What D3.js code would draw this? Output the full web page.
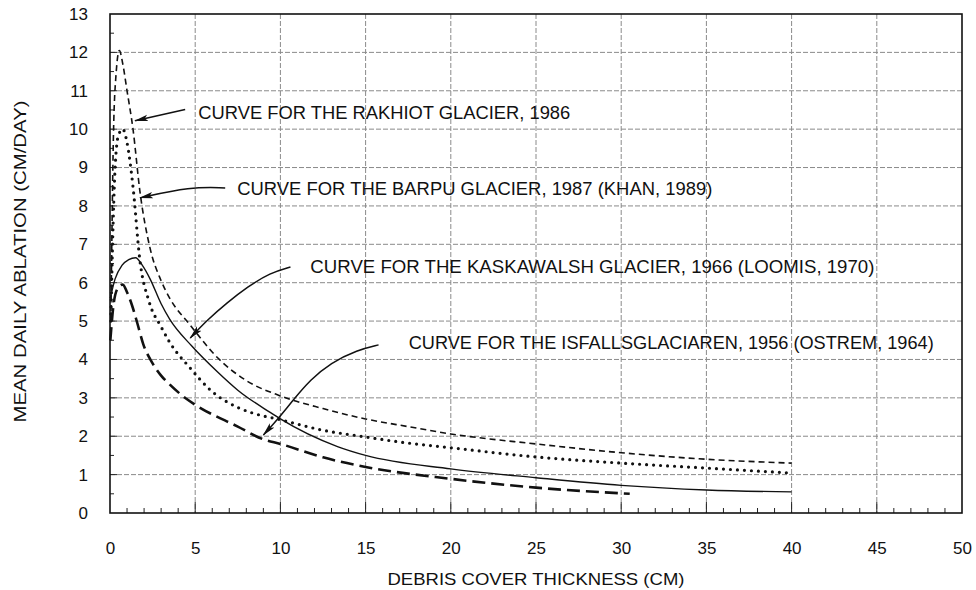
<!DOCTYPE html>
<html><head><meta charset="utf-8">
<script src="https://cdn.jsdelivr.net/npm/d3@7"></script>
<style>
html,body{margin:0;padding:0;background:#fff;}
svg text{font-family:"Liberation Sans",Arial,Helvetica,sans-serif;fill:#111;}
</style></head>
<body><svg id="chart" width="976" height="590"></svg>
<script>
// ---- data (debris thickness cm, ablation cm/day) ----
const rakhiotX = [0.05,0.12,0.2,0.35,0.55,0.75,1.0,1.35,1.75,2.35,3.0,3.5,4.7,6.3,8.0,10,12.5,15,17.5,20,25,30,35,40];
const rakhiotY = [5.0,7.5,9.8,11.4,12.05,11.7,11.0,10.0,8.4,6.9,6.05,5.6,4.9,4.05,3.45,3.05,2.72,2.45,2.25,2.06,1.8,1.57,1.4,1.3];

const barpuX = [0.05,0.15,0.3,0.5,0.75,1.0,1.35,1.75,2.3,3.0,3.5,4.7,5.9,7.5,8.4,10,12.35,15,17,20,25,30,35,40];
const barpuY = [5.0,7.0,9.0,9.85,10.0,9.65,8.5,6.6,5.5,4.85,4.45,3.78,3.2,2.75,2.6,2.43,2.17,1.98,1.85,1.7,1.46,1.3,1.17,1.04];

const kaskaX = [0.02,0.3,0.7,1.1,1.5,1.9,2.35,3.0,3.5,4.8,6.3,7.5,9.4,10,13.35,15,20,25,30,35,40];
const kaskaY = [5.6,6.1,6.45,6.6,6.65,6.45,6.1,5.45,5.05,4.35,3.68,3.2,2.62,2.45,1.73,1.5,1.15,0.92,0.72,0.6,0.55];

const isfallX = [0.02,0.2,0.45,0.75,1.0,1.3,1.6,1.95,2.5,3.0,3.5,4.5,5.0,7.5,9.0,10,12.5,15,20,25,30.5];
const isfallY = [4.5,5.4,5.85,5.95,5.75,5.4,4.95,4.4,3.9,3.58,3.35,2.97,2.82,2.25,1.92,1.8,1.45,1.2,0.89,0.66,0.5];

const xTicks = [0,5,10,15,20,25,30,35,40,45,50];
const yTicks = [0,1,2,3,4,5,6,7,8,9,10,11,12,13];

const labels = [
  "CURVE FOR THE RAKHIOT GLACIER, 1986",
  "CURVE FOR THE BARPU GLACIER, 1987 (KHAN, 1989)",
  "CURVE FOR THE KASKAWALSH GLACIER, 1966 (LOOMIS, 1970)",
  "CURVE FOR THE ISFALLSGLACIAREN, 1956 (OSTREM, 1964)"
];
const labelPos = [[5.18,10.43],[7.47,8.45],[11.76,6.41],[17.53,4.43]];
const labelLen = [372,475,564,525];
const arrowPaths = [
  [[4.41,10.51],[1.47,10.22]],
  [[6.76,8.47],[4.71,8.50],[1.76,8.21]],
  [[10.59,6.41],[9.41,6.26],[8.06,5.89],[6.88,5.48],[5.71,5.03],[4.71,4.56]],
  [[15.76,4.38],[14.53,4.25],[12.94,3.91],[11.76,3.47],[10.76,2.95],[9.82,2.43],[9.0,2.03]]
];

// ---- layout ----
const W = 976, H = 590;
const m = {left:110, right:14, top:14, bottom:77};
const iw = W - m.left - m.right, ih = H - m.top - m.bottom;
const svg = d3.select("#chart");
const g = svg.append("g").attr("transform", `translate(${m.left},${m.top})`);
const x = d3.scaleLinear().domain([0,50]).range([0,iw]);
const y = d3.scaleLinear().domain([0,13]).range([ih,0]);

// grid
g.append("g").selectAll("line").data(yTicks.slice(1,-1)).join("line")
  .attr("x1",0).attr("x2",iw).attr("y1",d=>y(d)).attr("y2",d=>y(d))
  .attr("stroke","#8a8a8a").attr("stroke-width",1).attr("stroke-dasharray","5,2");
g.append("g").selectAll("line").data(xTicks.slice(1,-1)).join("line")
  .attr("y1",0).attr("y2",ih).attr("x1",d=>x(d)).attr("x2",d=>x(d))
  .attr("stroke","#8a8a8a").attr("stroke-width",1).attr("stroke-dasharray","5,2");

// minor ticks
const xMinor = d3.range(1,50);
g.append("g").selectAll("line").data(xMinor).join("line")
  .attr("x1",d=>x(d)).attr("x2",d=>x(d)).attr("y1",ih)
  .attr("y2",d=> d%5===0 ? ih-11 : ih-5)
  .attr("stroke","#222").attr("stroke-width",1);
const yMinor = d3.range(1,26).map(i=>i/2);
g.append("g").selectAll("line").data(yMinor).join("line")
  .attr("x1",0).attr("x2",d=> Number.isInteger(d)?7:4).attr("y1",d=>y(d)).attr("y2",d=>y(d))
  .attr("stroke","#222").attr("stroke-width",1);

// axes labels via d3 axes
const xAxis = d3.axisBottom(x).tickValues(xTicks).tickSize(0).tickPadding(29).tickFormat(d3.format("d"));
const gx = g.append("g").attr("transform",`translate(0,${ih})`).call(xAxis);
gx.select(".domain").remove();
gx.selectAll("text").attr("font-size",17).style("font-family","Liberation Sans, Arial, sans-serif").attr("fill","#111");
const yAxis = d3.axisLeft(y).tickValues(yTicks).tickSize(0).tickPadding(22).tickFormat(d3.format("d"));
const gy = g.append("g").call(yAxis);
gy.select(".domain").remove();
gy.selectAll("text").attr("font-size",17).style("font-family","Liberation Sans, Arial, sans-serif").attr("fill","#111");

// frame
g.append("rect").attr("x",0).attr("y",0).attr("width",iw).attr("height",ih)
  .attr("fill","none").attr("stroke","#111").attr("stroke-width",1.6);

// curves
const mk = (xs,ys)=>xs.map((v,i)=>[v,ys[i]]);
const line = d3.line().x(d=>x(d[0])).y(d=>y(d[1])).curve(d3.curveMonotoneX);
const series = [
  {data:mk(rakhiotX,rakhiotY), dash:"6,4", w:1.6, cap:"butt"},
  {data:mk(barpuX,barpuY), dash:"0,7", w:3.2, cap:"round"},
  {data:mk(kaskaX,kaskaY), dash:null, w:1.4, cap:"butt"},
  {data:mk(isfallX,isfallY), dash:"13,6", w:2.6, cap:"butt"}
];
g.append("g").selectAll("path").data(series).join("path")
  .attr("d",d=>line(d.data)).attr("fill","none").attr("stroke","#111")
  .attr("stroke-width",d=>d.w).attr("stroke-dasharray",d=>d.dash).attr("stroke-linecap",d=>d.cap);

// arrow annotations
svg.append("defs").append("marker").attr("id","ah").attr("viewBox","0 0 14 8")
  .attr("refX",13).attr("refY",4).attr("markerWidth",14).attr("markerHeight",8)
  .attr("markerUnits","userSpaceOnUse").attr("orient","auto")
  .append("path").attr("d","M0,0.8 L14,4 L0,7.2 L3,4 Z").attr("fill","#111");
const aline = d3.line().x(d=>x(d[0])).y(d=>y(d[1])).curve(d3.curveBasis);
g.append("g").selectAll("path").data(arrowPaths).join("path")
  .attr("d",d=>aline(d)).attr("fill","none").attr("stroke","#111").attr("stroke-width",1.5)
  .attr("marker-end","url(#ah)");
g.append("g").selectAll("text").data(labels).join("text")
  .attr("x",(d,i)=>x(labelPos[i][0])).attr("y",(d,i)=>y(labelPos[i][1]))
  .attr("dominant-baseline","central").attr("font-size",17.5)
  .attr("textLength",(d,i)=>labelLen[i]).attr("lengthAdjust","spacingAndGlyphs").text(d=>d);

// axis titles
svg.append("text").attr("x",536).attr("y",579).attr("text-anchor","middle")
  .attr("dominant-baseline","central").attr("font-size",17)
  .attr("textLength",297).attr("lengthAdjust","spacingAndGlyphs").text("DEBRIS COVER THICKNESS (CM)");
svg.append("text").attr("transform",`translate(20,${m.top+ih/2-2}) rotate(-90)`).attr("text-anchor","middle")
  .attr("dominant-baseline","central").attr("font-size",17)
  .attr("textLength",322).attr("lengthAdjust","spacingAndGlyphs").text("MEAN DAILY ABLATION (CM/DAY)");
</script></body></html>
